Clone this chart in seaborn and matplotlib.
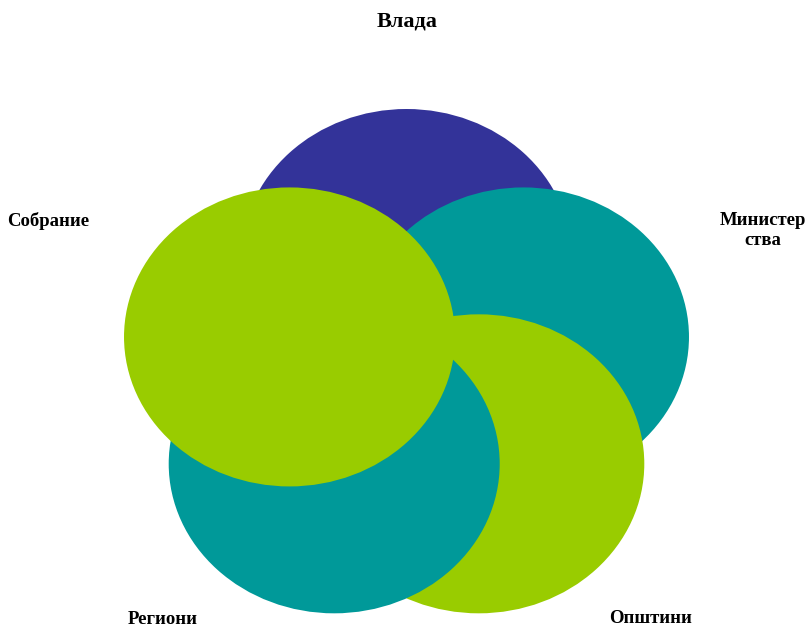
import numpy as np
import matplotlib
matplotlib.use("Agg")
import matplotlib.pyplot as plt
from matplotlib.patches import Ellipse
import seaborn as sns

sns.set_theme(style="white")
plt.rcParams['font.family'] = ['Liberation Serif', 'DejaVu Serif']

# Data
labels = ["Влада", "Министер\nства", "Општини", "Региони", "Собрание"]
colors = ["#333399", "#009999", "#99CC00", "#009999", "#99CC00"]

W, H = 810, 629
fig = plt.figure(figsize=(W / 100, H / 100), dpi=100)
ax = fig.add_axes([0, 0, 1, 1])
ax.set_xlim(0, W)
ax.set_ylim(H, 0)
ax.axis("off")

# layout (pixel space of the canvas)
cx, cy = 406.5, 372
rx, ry = 123, 113.5
ew, eh = 331, 299
angles = [90 - 72 * i for i in range(5)]  # top, right, bottom-right, bottom-left, left

for i, (ang, col) in enumerate(zip(angles, colors)):
    a = np.deg2rad(ang)
    x = cx + rx * np.cos(a)
    y = cy - ry * np.sin(a)
    ax.add_patch(Ellipse((x, y), ew, eh, facecolor=col, edgecolor="none", zorder=i + 1))

label_pos = [(407, 27), (763, 245), (650.5, 623), (162.5, 624), (48.5, 226)]
for (lx, ly), t in zip(label_pos, labels):
    ax.text(lx, ly, t, ha="center", va="baseline", fontsize=16 if t == "Влада" else 13.5,
            fontweight="bold", color="black", linespacing=1.25, zorder=10,
            multialignment="center")

fig.savefig("out.png", dpi=100, facecolor="white")
